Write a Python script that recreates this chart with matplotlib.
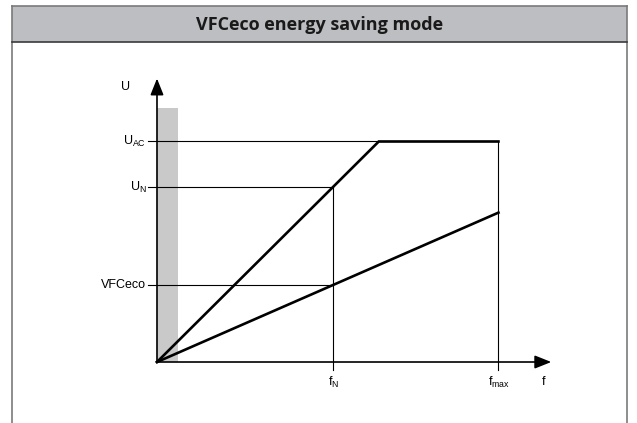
import matplotlib
matplotlib.use('Agg')
import matplotlib.pyplot as plt
from matplotlib.patches import Rectangle

# values (f in Hz, U in % of U_N)
f_N = 50
f_max = 97
f_axis_end = 112
U_N = 100
U_AC = 126
U_eco = 44              # VFCeco voltage at f_N
U_axis_end = 162
boost_width = 6         # grey band along the U axis
boost_height = 145

title = "VFCeco energy saving mode"
u_labels = [r'U$_\mathrm{AC}$', r'U$_\mathrm{N}$', 'VFCeco']
u_levels = [U_AC, U_N, U_eco]
f_labels = [r'f$_\mathrm{N}$', r'f$_\mathrm{max}$']
f_levels = [f_N, f_max]

# U/f characteristics
f_std = [0, U_AC / U_N * f_N, f_max]
U_std = [0, U_AC, U_AC]
f_eco = [0, f_max]
U_eco_line = [0, U_eco * f_max / f_N]

plt.rcParams['font.family'] = ['Liberation Sans', 'DejaVu Sans']
plt.rcParams['mathtext.fontset'] = 'custom'
plt.rcParams['mathtext.rm'] = 'Liberation Sans'
plt.rcParams['mathtext.it'] = 'Liberation Sans:italic'

W, H = 637, 423
fig = plt.figure(figsize=(W / 100, H / 100), dpi=100)

# frame + header band
bg = fig.add_axes([0, 0, 1, 1])
bg.set_xlim(0, W)
bg.set_ylim(H, 0)
bg.axis('off')
bg.add_patch(Rectangle((11.5, 6), 615, 36, facecolor='#bdbec1', edgecolor='none'))
bg.plot([11.5, 11.5], [6, H], color='#7a7a7a', lw=1.2)
bg.plot([626.5, 626.5], [6, H], color='#7a7a7a', lw=1.2)
bg.plot([11.5, 626.5], [6, 6], color='#7a7a7a', lw=1.2)
bg.plot([11.5, 626.5], [42, 42], color='#3a3a3a', lw=1.2)
bg.text(320, 24.5, title, ha='center', va='center', fontsize=13,
        fontweight='bold', family=['Open Sans', 'DejaVu Sans'], color='#1a1a1a')

ax = fig.add_axes([0.1912, 0.1111, 0.6797, 0.7116])
ax.set_xlim(-10, 113)
ax.set_ylim(-8, 164)
ax.axis('off')

ax.add_patch(Rectangle((0, 0), boost_width, boost_height, facecolor='#c9c9c9',
                       edgecolor='none'))

# thin guide lines
tick_f = -2.6
tick_u = -4.6
ax.plot([tick_f, f_max], [U_AC, U_AC], color='black', lw=0.8)
ax.plot([tick_f, f_N], [U_N, U_N], color='black', lw=0.8)
ax.plot([tick_f, f_N], [U_eco, U_eco], color='black', lw=0.8)
ax.plot([f_N, f_N], [tick_u, U_N], color='black', lw=0.8)
ax.plot([f_max, f_max], [tick_u, U_AC], color='black', lw=0.8)

# characteristics
ax.plot(f_std, U_std, color='black', lw=1.9, solid_joinstyle='miter')
ax.plot(f_eco, U_eco_line, color='black', lw=1.9)

# axes with arrows
arrow = dict(arrowstyle='-|>,head_length=1.0,head_width=0.4', lw=1.2,
             color='black', shrinkA=0, shrinkB=0, mutation_scale=10)
ax.annotate('', xy=(f_axis_end, 0), xytext=(0, 0), arrowprops=arrow)
ax.annotate('', xy=(0, U_axis_end), xytext=(0, 0), arrowprops=arrow)

# labels
fs = 9
ax.text(-9, 157, 'U', ha='center', va='center', fontsize=fs)
for lab, lev in zip(u_labels, u_levels):
    ax.text(-3.0, lev, lab, ha='right', va='center', fontsize=fs)
for lab, lev in zip(f_labels, f_levels):
    ax.text(lev + 0.3, -11.4, lab, ha='center', va='center', fontsize=fs)
ax.text(109.7, -11.4, 'f', ha='center', va='center', fontsize=fs)

fig.savefig('out.png', dpi=100)
